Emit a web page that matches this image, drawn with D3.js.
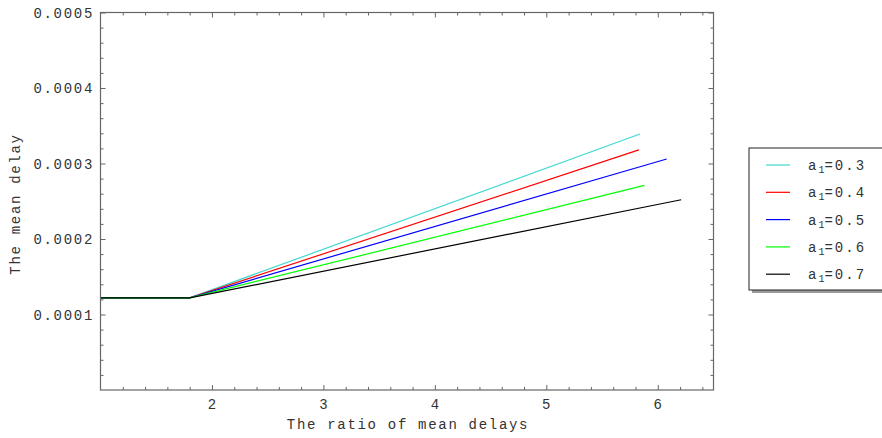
<!DOCTYPE html>
<html>
<head>
<meta charset="utf-8">
<script src="https://cdn.jsdelivr.net/npm/d3@7"></script>
<style>
  body { margin: 0; background: #fff; }
  text { font-family: "Liberation Mono", "DejaVu Sans Mono", monospace; fill: #333; }
</style>
</head>
<body>
<div id="chart"></div>
<script>
// data
var labels = ["0.3", "0.4", "0.5", "0.6", "0.7"];
var colors = ["#40d8d0", "#ff0000", "#0000ff", "#00ff00", "#000000"];
var a03 = [[1, 0.000122], [1.8, 0.000122], [5.84, 0.000339]];
var a04 = [[1, 0.000122], [1.8, 0.000122], [5.83, 0.000318]];
var a05 = [[1, 0.000122], [1.8, 0.000122], [6.08, 0.000306]];
var a06 = [[1, 0.000122], [1.8, 0.000122], [5.88, 0.000271]];
var a07 = [[1, 0.000122], [1.8, 0.000122], [6.21, 0.000252]];
var series = [a03, a04, a05, a06, a07];
var xTicks = [2, 3, 4, 5, 6];
var yTicks = [0.0001, 0.0002, 0.0003, 0.0004, 0.0005];

var W = 882, H = 438;
var pLeft = 100.5, pRight = 713.5, pTop = 12.5, pBottom = 390;

var svg = d3.select("#chart").append("svg")
    .attr("width", W)
    .attr("height", H);

var x = d3.scaleLinear().domain([1, 6.5]).range([pLeft, pRight]);
var y = d3.scaleLinear().domain([0, 0.0005]).range([pBottom, pTop]);

// minor tick positions
var xMinor = d3.range(1.2, 6.5, 0.2).filter(function(v) { return Math.abs(v - Math.round(v)) > 0.01; });
var yMinor = d3.range(0.00002, 0.0005, 0.00002).filter(function(v) { return Math.abs(v / 0.0001 - Math.round(v / 0.0001)) > 0.01; });

// data lines
var line = d3.line().x(function(d) { return x(d[0]); }).y(function(d) { return y(d[1]); });
series.forEach(function(s, i) {
  svg.append("path")
    .attr("d", line(s))
    .attr("fill", "none")
    .attr("stroke", colors[i])
    .attr("stroke-width", 1.2);
});

// frame
var frameColor = "#666";
svg.append("rect")
    .attr("x", pLeft).attr("y", pTop)
    .attr("width", pRight - pLeft).attr("height", pBottom - pTop)
    .attr("fill", "none")
    .attr("stroke", frameColor)
    .attr("stroke-width", 1.2);

function ticks(axisFn, trans, major, minor) {
  var gMaj = svg.append("g").attr("transform", trans)
      .call(axisFn.tickValues(major).tickSize(-5).tickFormat(""));
  var gMin = svg.append("g").attr("transform", trans)
      .call(axisFn.tickValues(minor).tickSize(-3).tickFormat(""));
  [gMaj, gMin].forEach(function(g) {
    g.select(".domain").remove();
    g.selectAll("line").attr("stroke", frameColor);
  });
}
ticks(d3.axisBottom(x), "translate(0," + pBottom + ")", xTicks, xMinor);
ticks(d3.axisTop(x), "translate(0," + pTop + ")", xTicks, xMinor);
ticks(d3.axisLeft(y), "translate(" + pLeft + ",0)", yTicks, yMinor);
ticks(d3.axisRight(y), "translate(" + pRight + ",0)", yTicks, yMinor);

// tick labels
svg.append("g").selectAll("text")
    .data(xTicks)
    .enter()
    .append("text")
    .attr("x", function(d) { return x(d); })
    .attr("y", 409)
    .attr("text-anchor", "middle")
    .style("font-size", "14px")
    .text(function(d) { return d; });

svg.append("g").selectAll("text")
    .data(yTicks)
    .enter()
    .append("text")
    .attr("x", 94)
    .attr("y", function(d) { return y(d) + 5; })
    .attr("text-anchor", "end")
    .style("font-size", "14px")
    .style("letter-spacing", "1.7px")
    .text(function(d) { return d.toFixed(4); });

// axis titles
svg.append("text")
    .attr("x", 408)
    .attr("y", 429)
    .attr("text-anchor", "middle")
    .style("font-size", "14px")
    .style("letter-spacing", "1.7px")
    .text("The ratio of mean delays");

svg.append("text")
    .attr("transform", "translate(20,204) rotate(-90)")
    .attr("text-anchor", "middle")
    .style("font-size", "14px")
    .style("letter-spacing", "1.7px")
    .text("The mean delay");

// legend
var lx = 749, ly = 148, lw = 150, lh = 142;
svg.append("rect")
    .attr("x", lx + 3).attr("y", ly + 3)
    .attr("width", lw).attr("height", lh)
    .attr("fill", "#999");
svg.append("rect")
    .attr("x", lx).attr("y", ly)
    .attr("width", lw).attr("height", lh)
    .attr("fill", "#fff")
    .attr("stroke", "#222")
    .attr("stroke-width", 1);

var rows = svg.append("g").selectAll("g")
    .data(labels)
    .enter()
    .append("g")
    .attr("transform", function(d, i) { return "translate(0," + (165 + i * 27.3) + ")"; });

rows.append("line")
    .attr("x1", 766).attr("x2", 790)
    .attr("y1", 0).attr("y2", 0)
    .attr("stroke", function(d, i) { return colors[i]; })
    .attr("stroke-width", 1.2);

var lt = rows.append("text")
    .attr("x", 808)
    .attr("y", 5)
    .style("font-size", "14px")
    .style("letter-spacing", "2px");
lt.append("tspan").text("a");
lt.append("tspan").attr("dy", 3).style("font-size", "10px").style("letter-spacing", "0px").text("1");
lt.append("tspan").attr("dy", -3).text(function(d) { return "=" + d; });
</script>
</body>
</html>
